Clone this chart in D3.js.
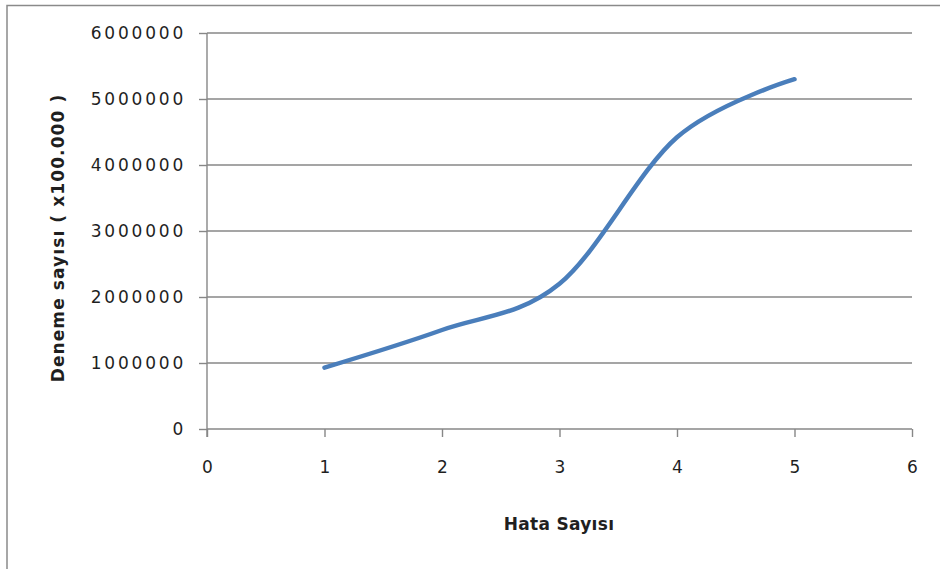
<!DOCTYPE html>
<html>
<head>
<meta charset="utf-8">
<script src="https://cdn.jsdelivr.net/npm/d3@7"></script>
<style>
  html, body { margin: 0; padding: 0; background: #fff; }
  svg { display: block; }
</style>
</head>
<body>
<svg id="chart" width="940" height="569"></svg>
<script>
// Hata sayısına göre deneme sayısı
const hataSayisi = [1, 2, 3, 4, 5];
const denemeSayisi = [930000, 1500000, 2200000, 4420000, 5300000];
const xTicks = [0, 1, 2, 3, 4, 5, 6];
const yTicks = [0, 1000000, 2000000, 3000000, 4000000, 5000000, 6000000];
const xTitle = "Hata Sayısı";
const yTitle = "Deneme sayısı  ( x100.000 )";

const svg = d3.select("#chart");
const W = 940, H = 569;

const x = d3.scaleLinear().domain([0, 6]).range([207, 912]);
const y = d3.scaleLinear().domain([0, 6000000]).range([429, 33]);

const gridColor = "#878787";
const textColor = "#1f1f1f";
const font = "'DejaVu Sans', Verdana, sans-serif";

// chart frame (top and left edges)
svg.append("path")
  .attr("d", `M7,${H} L7,5.5 L${W},5.5`)
  .attr("fill", "none")
  .attr("stroke", "#8a8a8a")
  .attr("stroke-width", 1.5);

// horizontal gridlines
svg.append("g")
  .selectAll("line")
  .data(yTicks.filter(d => d > 0))
  .join("line")
  .attr("x1", x(0))
  .attr("x2", x(6))
  .attr("y1", d => y(d))
  .attr("y2", d => y(d))
  .attr("stroke", gridColor)
  .attr("stroke-width", 1.4);

// y axis
const yAxis = d3.axisLeft(y).tickValues(yTicks).tickSize(8).tickPadding(13)
  .tickFormat(d3.format("d"));
const gy = svg.append("g").attr("transform", `translate(${x(0)},0)`).call(yAxis);

// x axis
const xAxis = d3.axisBottom(x).tickValues(xTicks).tickSize(8).tickPadding(24)
  .tickFormat(d3.format("d"));
const gx = svg.append("g").attr("transform", `translate(0,${y(0)})`).call(xAxis);

[gx, gy].forEach(g => {
  g.select(".domain").attr("stroke", gridColor).attr("stroke-width", 1.4);
  g.selectAll(".tick line").attr("stroke", gridColor).attr("stroke-width", 1.4);
  g.selectAll(".tick text")
    .attr("fill", textColor)
    .style("font-family", font)
    .style("font-size", "17px");
});
gy.selectAll(".tick text").style("letter-spacing", "2.8px");
gy.select(".domain").attr("d", `M0,${y(6000000)}V${y(0) + 8}`);
gx.select(".domain").attr("d", `M${x(0)},0H${x(6)}`);

// data line (smoothed)
const line = d3.line()
  .x((d, i) => x(hataSayisi[i]))
  .y(d => y(d))
  .curve(d3.curveCardinal.tension(0));

svg.append("path")
  .datum(denemeSayisi)
  .attr("d", line)
  .attr("fill", "none")
  .attr("stroke", "#4a7ebb")
  .attr("stroke-width", 4.5)
  .attr("stroke-linecap", "round")
  .attr("stroke-linejoin", "round");

// axis titles
svg.append("text")
  .attr("x", 559)
  .attr("y", 530)
  .attr("text-anchor", "middle")
  .attr("fill", textColor)
  .style("font-family", font)
  .style("font-size", "17px")
  .style("font-weight", "bold")
  .style("letter-spacing", "0.3px")
  .text(xTitle);

svg.append("text")
  .attr("transform", "translate(64,238) rotate(-90)")
  .attr("text-anchor", "middle")
  .attr("fill", textColor)
  .style("font-family", font)
  .style("font-size", "17px")
  .style("font-weight", "bold")
  .style("letter-spacing", "1.1px")
  .text(yTitle);
</script>
</body>
</html>
